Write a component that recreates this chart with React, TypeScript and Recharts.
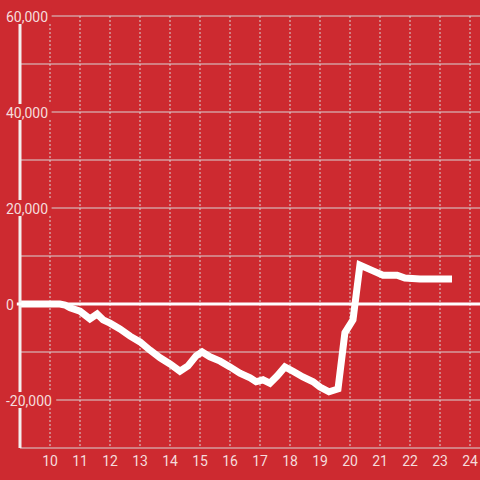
import React from 'react';
import { LineChart, Line, XAxis, YAxis, CartesianGrid, ReferenceLine } from 'recharts';

const hours = [
  9.0, 10.33, 10.5, 10.67, 11.0, 11.33, 11.57, 11.77, 12.0, 12.33, 12.67, 13.0, 13.33, 13.67, 14.0,
  14.33, 14.6, 14.87, 15.07, 15.33, 15.67, 16.0, 16.33, 16.67, 16.87, 17.1, 17.33, 17.57, 17.83,
  18.1, 18.43, 18.77, 19.0, 19.3, 19.6, 19.83, 20.1, 20.33, 20.77, 21.1, 21.57, 21.83, 22.33, 23.4,
];
const values = [
  0, 0, -200, -800, -1500, -3100, -2100, -3300, -4000, -5200, -6700, -7900, -9600, -11200, -12500,
  -14000, -12900, -10800, -10000, -11000, -11900, -13100, -14400, -15400, -16200, -15800, -16500, -15000, -13100,
  -14000, -15200, -16200, -17300, -18300, -17700, -6000, -3300, 8100, 6900, 6000, 6000, 5400, 5200, 5200,
];
const xTicks = [10, 11, 12, 13, 14, 15, 16, 17, 18, 19, 20, 21, 22, 23, 24];
const yGridTicks = [-30000, -20000, -10000, 0, 10000, 20000, 30000, 40000, 50000, 60000];
const yLabelStep = 20000;

const data = hours.map((t, i) => ({ t, v: values[i] }));

const BG = '#cd2a30';
const TEXT = '#f5dcdc';
const GRID = '#d9d4d4';
const FONT = 'Roboto, Arial, sans-serif';

const fmt = (v: number) => v.toLocaleString('en-US');

const textWidth = (s: string) => {
  let w = 0;
  for (const c of s) {
    if (c === ',') w += 3.6;
    else if (c === '-') w += 4.6;
    else w += 7.8;
  }
  return w;
};

const YTick = (props: any) => {
  const { x, y, payload } = props;
  const v = payload.value as number;
  if (v % yLabelStep !== 0) return null;
  const label = fmt(v);
  const w = textWidth(label);
  const tx = x - 14;
  const rx1 = tx - 2;
  const rx2 = tx + w + 3;
  return (
    <g>
      <rect x={rx1} y={y - 8} width={rx2 - rx1} height={16} fill={BG} />
      {v === 0 && <line x1={rx2} x2={x + 2} y1={y} y2={y} stroke="#ffffff" strokeWidth={3} />}
      <text x={tx} y={y + 6} textAnchor="start" fill={TEXT} fontSize={14} fontFamily={FONT}>
        {label}
      </text>
    </g>
  );
};

export default function App() {
  return (
    <div style={{ position: 'absolute', left: 0, top: 0, width: 480, height: 480, overflow: 'hidden', background: BG }}>
      <LineChart width={500} height={480} data={data} margin={{ top: 16, right: 0, bottom: 0, left: 0 }}>
        <CartesianGrid horizontal={true} vertical={false} stroke={GRID} strokeWidth={1} />
        <CartesianGrid horizontal={false} vertical={true} stroke={GRID} strokeWidth={1} strokeDasharray="2 2" />
        <XAxis
          dataKey="t"
          type="number"
          domain={[9, 25]}
          ticks={xTicks}
          allowDataOverflow
          axisLine={false}
          tickLine={false}
          height={32}
          tick={{ fill: TEXT, fontSize: 14, fontFamily: FONT }}
        />
        <ReferenceLine y={0} stroke="#ffffff" strokeWidth={3} />
        <Line
          dataKey="v"
          type="linear"
          stroke="#ffffff"
          strokeWidth={7}
          dot={false}
          isAnimationActive={false}
        />
        <YAxis
          type="number"
          domain={[-30000, 60000]}
          ticks={yGridTicks}
          width={20}
          tickSize={0}
          tickMargin={0}
          tickLine={false}
          axisLine={{ stroke: '#f4eeee', strokeWidth: 3 }}
          tick={<YTick />}
          interval={0}
        />
      </LineChart>
    </div>
  );
}
